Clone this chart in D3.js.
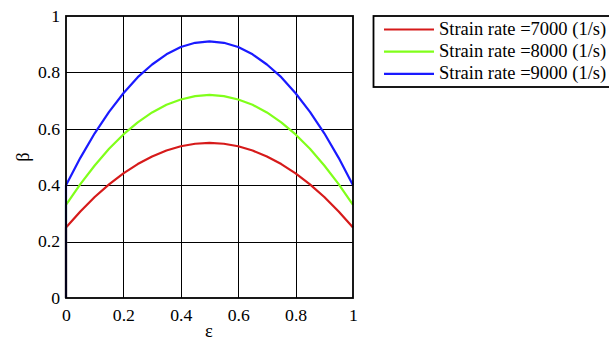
<!DOCTYPE html>
<html><head><meta charset="utf-8">
<script src="https://cdn.jsdelivr.net/npm/d3@7"></script>
<style>body{margin:0;background:#fff}svg{display:block}</style>
</head><body><svg width="609" height="340"></svg>
<script>
const eps = [0,0.05,0.1,0.15,0.2,0.25,0.3,0.35,0.4,0.45,0.5,0.55,0.6,0.65,0.7,0.75,0.8,0.85,0.9,0.95,1];
const beta7000 = [0.25,0.307,0.358,0.403,0.442,0.475,0.502,0.523,0.538,0.547,0.55,0.547,0.538,0.523,0.502,0.475,0.442,0.403,0.358,0.307,0.25];
const beta8000 = [0.33,0.404,0.470,0.529,0.580,0.623,0.658,0.685,0.704,0.716,0.72,0.716,0.704,0.685,0.658,0.623,0.580,0.529,0.470,0.404,0.33];
const beta9000 = [0.40,0.497,0.584,0.660,0.726,0.783,0.828,0.864,0.890,0.905,0.91,0.905,0.890,0.864,0.828,0.783,0.726,0.660,0.584,0.497,0.40];
const seriesNames = ["Strain rate =7000 (1/s)","Strain rate =8000 (1/s)","Strain rate =9000 (1/s)"];
const seriesColors = ["#d61a1a","#80ff1a","#1a1aff"];
const xTicks = [0,0.2,0.4,0.6,0.8,1];
const yTicks = [0,0.2,0.4,0.6,0.8,1];
const xTickLabels = ["0","0.2","0.4","0.6","0.8","1"];
const yTickLabels = ["0","0.2","0.4","0.6","0.8","1"];

const FONT = "Liberation Serif";
const svg = d3.select("svg");
const L=66, R=353, T=16, B=298;
const x = d3.scaleLinear().domain([0,1]).range([L,R]);
const y = d3.scaleLinear().domain([0,1]).range([B,T]);

// grid
const g = svg.append("g");
g.selectAll(".gx").data(xTicks.slice(1,-1)).join("line")
 .attr("x1",d=>Math.round(x(d))+0.5).attr("x2",d=>Math.round(x(d))+0.5).attr("y1",T).attr("y2",B)
 .attr("stroke","#000").attr("stroke-width",1);
g.selectAll(".gy").data(yTicks.slice(1,-1)).join("line")
 .attr("y1",d=>Math.round(y(d))+0.5).attr("y2",d=>Math.round(y(d))+0.5).attr("x1",L).attr("x2",R)
 .attr("stroke","#000").attr("stroke-width",1);

// axes via d3 axes
const xAxis = d3.axisBottom(x).tickValues(xTicks).tickFormat((d,i)=>xTickLabels[i]).tickSize(0).tickPadding(8);
const yAxis = d3.axisLeft(y).tickValues(yTicks).tickFormat((d,i)=>yTickLabels[i]).tickSize(0).tickPadding(6);
const ax = svg.append("g").attr("transform",`translate(0,${B})`).call(xAxis);
ax.attr("font-family",FONT).attr("font-size",17.7);
ax.select(".domain").remove();
ax.selectAll("text").attr("font-family",FONT).attr("font-size",17.7).attr("fill","#000").attr("dy","0.85em");
const ay = svg.append("g").attr("transform",`translate(${L},0)`).call(yAxis);
ay.attr("font-family",FONT).attr("font-size",17.7);
ay.select(".domain").remove();
ay.selectAll("text").attr("font-family",FONT).attr("font-size",17.7).attr("fill","#000").attr("dy","0.3em");

// series
const allSeries = [beta7000,beta8000,beta9000];
const line = d3.line().x(d=>x(d[0])).y(d=>y(d[1]));
allSeries.forEach((vals,i)=>{
  const pts = [[0,0]].concat(eps.map((e,j)=>[e,vals[j]]));
  svg.append("path").datum(pts).attr("d",line).attr("fill","none")
   .attr("stroke",seriesColors[i]).attr("stroke-width",2.2).attr("stroke-linejoin","round");
});

// frame
svg.append("rect").attr("x",L).attr("y",T).attr("width",R-L).attr("height",B-T)
 .attr("fill","none").attr("stroke","#000").attr("stroke-width",1.8);

// axis titles
svg.append("text").attr("transform",`translate(29,157) rotate(-90)`).attr("text-anchor","middle")
 .attr("font-family",FONT).attr("font-size",18.5).text("β");
svg.append("text").attr("x",209).attr("y",337).attr("text-anchor","middle")
 .attr("font-family",FONT).attr("font-size",18.5).text("ε");

// legend
const lg = svg.append("g");
lg.append("rect").attr("x",373.5).attr("y",16).attr("width",260).attr("height",71)
 .attr("fill","#fff").attr("stroke","#000").attr("stroke-width",1.8);
seriesNames.forEach((n,i)=>{
  const yy = 29.5 + i*22.2;
  lg.append("line").attr("x1",384).attr("x2",434).attr("y1",yy).attr("y2",yy)
   .attr("stroke",seriesColors[i]).attr("stroke-width",2.2);
  lg.append("text").attr("x",439).attr("y",yy+5.5).attr("font-family",FONT).attr("font-size",18.5).text(n);
});
</script></body></html>
